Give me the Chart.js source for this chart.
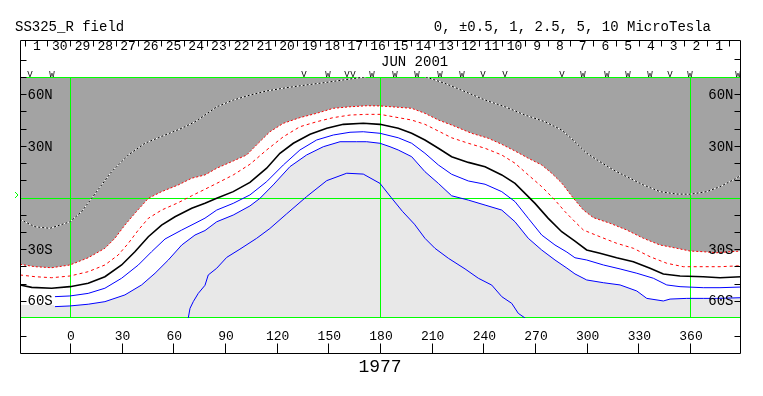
<!DOCTYPE html>
<html>
<head>
<meta charset="utf-8">
<title>SS325_R field</title>
<script src="https://cdn.jsdelivr.net/npm/chart.js@4.4.1/dist/chart.umd.min.js"></script>
<style>
  html, body { margin: 0; padding: 0; background: #fff; }
  canvas { display: block; }
</style>
</head>
<body>
<canvas id="chart" width="763" height="396"></canvas>
<script>
// source surface field contours, Carrington rotation 1977 (lon / lat in degrees)

// +2.5 contour (white/black dotted)
const pos25Lon = [-29, -20.3, -11.6, 0, 6.8, 12.6, 18.4, 24.2, 33.9, 43.5, 55.2, 64.9, 72.6, 78.4, 85.2, 94.8, 104.5, 114.2, 125.8, 137.4, 149.1, 158.7, 168.4, 180, 191.6, 206.1, 217.7, 229.4, 241, 252.6, 264.2, 275.8, 285.5, 293.2, 300, 307.7, 315.5, 323.2, 332.9, 342.6, 352.3, 360, 369.7, 377.4, 385.1, 390];
const pos25Lat = [-12.7, -17, -17.9, -14.1, -8.2, -0.5, 7.3, 15, 24.7, 31.5, 36.3, 40.2, 44, 47.9, 52.7, 56.6, 59.5, 61.9, 63.8, 65.4, 66.9, 68.3, 69.6, 71.5, 71.5, 70.2, 66.3, 61.5, 56.6, 52.7, 47.9, 44, 39.2, 32.4, 25.7, 20.8, 16, 12.1, 7.3, 3.4, 2, 1.9, 3.4, 6.3, 10.2, 13.1];

// +1 contour (edge of dark shading)
const pos1Lon = [-29, -20.3, -10.6, 0, 10.6, 20.3, 26.1, 31.9, 37.7, 45.5, 53.2, 62.9, 70.7, 78.4, 85.2, 94.8, 102.6, 109.3, 116.1, 123.9, 133.5, 143.2, 152.9, 162.6, 172.3, 180, 190.6, 198.4, 206.1, 213.9, 221.6, 233.2, 242.9, 250.7, 258.4, 266.1, 273.9, 279.7, 285.5, 292.2, 298.1, 303.9, 313.6, 323.3, 332.9, 342.6, 352.3, 360, 367.7, 375.5, 383.2, 390];
const pos1Lat = [-38.8, -40.2, -40.8, -39.2, -35, -29.5, -23.7, -16, -9.2, -0.5, 3.4, 7.3, 11.2, 13.1, 17, 21.2, 24.7, 31.5, 38.2, 43.1, 46.4, 48.9, 51.8, 52.7, 53.3, 53.2, 52.4, 51.8, 48.9, 45, 42.1, 37.3, 34.4, 30.9, 27, 22.8, 18.9, 14.1, 8.4, -0.3, -7.3, -11.7, -15, -18.9, -23.7, -27.6, -29.5, -31.1, -31.5, -32.1, -31.5, -31.1];

// +0.5 contour
const pos05Lon = [-29, -20.3, -10.6, 0, 10.6, 20.3, 28, 33.9, 39.7, 45.5, 53.2, 62.9, 70.7, 78.4, 85.2, 94.8, 104.5, 114.2, 123.9, 133.5, 143.2, 152.9, 162.6, 172.3, 180, 190.6, 198.4, 206.1, 213.9, 221.6, 231.3, 241, 250.7, 258.4, 266.1, 273.9, 281.6, 287.4, 293.2, 298.1, 307.7, 317.4, 327.1, 336.8, 346.5, 356.1, 367.7, 377.4, 390];
const pos05Lat = [-45, -46, -46.6, -45.6, -43.1, -39.2, -33.4, -26.6, -18.9, -12.1, -7.3, -3, 1, 4.8, 8.2, 13.1, 19.3, 27.6, 35.3, 41.1, 44, 46.4, 47.9, 48.3, 48.3, 46.4, 45, 42.5, 38.6, 34.7, 31.5, 28.6, 24.7, 19.9, 13.1, 6.3, -1.5, -8.2, -14.1, -18.9, -22.8, -26.6, -29.5, -34.4, -38.2, -40.2, -40.2, -40.2, -39.6];

// neutral line
const zeroLon = [-29, -22.2, -10.6, 0, 10.6, 20.3, 30, 37.7, 45.5, 53.2, 61, 70.7, 78.4, 85.2, 94.8, 104.5, 114.2, 121.9, 129.7, 139.4, 149.1, 158.7, 170.3, 180, 190.6, 198.4, 206.1, 213.9, 221.6, 231.3, 241, 250.7, 258.4, 264.2, 270, 277.7, 285.5, 293.2, 300, 307.7, 317.4, 327.1, 336.8, 344.5, 354.2, 367.7, 377.4, 390];
const zeroLat = [-50.8, -52.2, -52.7, -51.8, -49.8, -46, -39.2, -31.5, -22.8, -16, -11.2, -6.3, -3.4, -0.5, 3.4, 8.8, 17, 25.7, 31.5, 36.7, 40.2, 42.5, 43.1, 42.5, 40.2, 37.3, 33.4, 28.6, 23.7, 20.4, 17.9, 13.1, 8.2, 2.4, -3.4, -12.1, -19.9, -25.3, -30.5, -32.4, -35, -37.3, -41.1, -44.4, -45.6, -46, -46.6, -46];

// -0.5 contour
const neg05Lon = [-8.7, 0, 10.6, 20.3, 30, 39.7, 47.4, 55.2, 64.9, 72.6, 78.4, 85.2, 94.8, 104.5, 114.2, 123.9, 133.5, 143.2, 152.9, 162.6, 170.3, 180, 190.6, 198.4, 206.1, 213.9, 221.6, 231.3, 241, 250.7, 258.4, 266.1, 273.9, 281.6, 288.5, 293.2, 300, 309.7, 319.4, 329.1, 338.7, 346.5, 354.2, 367.7, 377.4, 390];
const neg05Lat = [-57.6, -57.2, -55.7, -52.7, -46.9, -39.2, -31.5, -24.1, -18.9, -15, -12, -7.3, -3.4, 1.5, 9.2, 18.9, 27.6, 33.4, 36.3, 37.9, 38.2, 37.3, 34.7, 31.5, 25.7, 18.9, 13.5, 9.6, 7.7, 3.4, -2.4, -12.1, -21.8, -27.6, -31.7, -35, -36.3, -39.2, -41.5, -44, -46.9, -50.8, -51.8, -52.4, -52.4, -52];

// -1 contour (edge of light shading)
const neg1Lon = [-8.7, 0, 10.6, 20.3, 31.9, 41.6, 49.4, 57.1, 64.9, 72.6, 78.4, 85.2, 94.8, 104.5, 110.3, 118, 127.7, 137.4, 147.1, 156.8, 166.5, 172.3, 180, 185.8, 190.6, 198.4, 206.1, 213.9, 221.6, 231.3, 241, 250.7, 258.4, 266.1, 273.9, 281.6, 288.5, 293.2, 300, 309.7, 319.4, 329.1, 334.9, 344.5, 348.4, 358.1, 367.7, 375.5, 390];
const neg1Lat = [-63.4, -63, -62, -60.5, -56.6, -50.8, -44, -36.3, -27.6, -21.8, -19.2, -14.1, -10.2, -4.9, -0.5, 7.3, 17.9, 24.7, 29.5, 32.4, 32.4, 32.4, 31.5, 29.5, 27.6, 23.7, 15, 8.2, 1, -1.5, -4.4, -7.3, -14.1, -23.7, -30.5, -36.3, -41, -44.4, -47.9, -49.5, -50.8, -54.3, -58.6, -60.1, -59, -58.6, -58.6, -58.6, -58.2];
// shading edge where the -1 line is not drawn
const neg1EdgeLon = [-29, -9.5];
const neg1EdgeLat = [-62.4, -62.4];

// -2.5 contour
const neg25Lon = [68.7, 69.7, 71.6, 74.5, 78.4, 80.3, 85.2, 91, 98.7, 108.4, 116.1, 125.8, 137.4, 149.1, 160.7, 170.3, 180, 186.5, 193, 200, 206.1, 211.9, 219.7, 229.4, 237.1, 244.9, 250.7, 256.5, 260.3, 264.2];
const neg25Lat = [-70, -64.4, -60.5, -55.7, -51, -45, -41.1, -34.8, -30, -23.7, -18, -9.5, 0.5, 9.8, 14.1, 13.6, 8.2, 0, -8, -15.5, -23.7, -29.5, -35.3, -41.5, -46.9, -50.9, -57.6, -61.5, -67.3, -70];

// axes
const lonTicks = [0, 30, 60, 90, 120, 150, 180, 210, 240, 270, 300, 330, 360];
const latTicks = [60, 50, 40, 30, 20, 10, -10, -20, -30, -40, -50, -60];
const latLabelVals = [60, 30, -30, -60];
const latLabelText = ["60N", "30N", "30S", "60S"];
const gridLon = [0, 180, 360];
const gridLat = [70, 0, -70];

// dates along the top (July 1 back to June 1)
const dayText = ["1", "30", "29", "28", "27", "26", "25", "24", "23", "22", "21", "20", "19", "18", "17", "16",
  "15", "14", "13", "12", "11", "10", "9", "8", "7", "6", "5", "4", "3", "2", "1"];
const dayLon = [-19.7, -6.5, 6.7, 19.9, 33.1, 46.3, 59.5, 72.7, 85.9, 99.1, 112.3, 125.5, 138.7, 151.9, 165.1, 178.3,
  191.5, 204.7, 217.9, 231.1, 244.3, 257.5, 270.7, 283.9, 297.1, 310.3, 323.5, 336.7, 349.9, 363.1, 376.3];

// V / W markers row
const markLon = [-23.2, -10.5, 135.9, 149.8, 160.8, 164.3, 175.4, 188.7, 201.5, 214.8, 227.6, 239.8, 252.6, 285.7, 297.9, 311.8, 324.0, 336.8, 348.4, 360.0, 387.9];
const markText = ["V", "W", "V", "W", "V", "V", "W", "W", "W", "W", "W", "V", "V", "V", "W", "W", "W", "W", "V", "W", "W"];

const FONT = "'Liberation Mono', 'DejaVu Sans Mono', monospace";

const pts = (lon, lat) => lon.map((x, i) => ({ x: x, y: lat[i] }));

const line = (label, data, color, width, dash, order) => ({
  label: label,
  data: data,
  showLine: true,
  borderColor: color,
  borderWidth: width,
  borderDash: dash || [],
  pointRadius: 0,
  fill: false,
  clip: 0,
  order: order,
});

// green frame / meridian lines, drawn right after the shading
const gridPlugin = {
  id: "greenGrid",
  afterDatasetDraw(chart, args) {
    if (chart.data.datasets[args.index].label !== "shadeNeg") return;
    const { ctx, chartArea: a, scales: { x, y } } = chart;
    ctx.save();
    ctx.strokeStyle = "#00ff00";
    ctx.lineWidth = 1;
    ctx.beginPath();
    gridLon.forEach((v) => {
      const px = Math.round(x.getPixelForValue(v)) + 0.5;
      ctx.moveTo(px, a.top);
      ctx.lineTo(px, a.bottom);
    });
    gridLat.forEach((v) => {
      let py = Math.round(y.getPixelForValue(v)) + 0.5;
      if (py > a.bottom) py -= 1;
      ctx.moveTo(a.left, py);
      ctx.lineTo(a.right, py);
    });
    ctx.stroke();
    ctx.restore();
  },
};

// frame, ticks and all the texts
const decorPlugin = {
  id: "decor",
  afterDraw(chart) {
    const { ctx, chartArea: a, scales: { x, y } } = chart;
    const L = a.left + 0.5;
    const R = a.right - 0.5;
    const top = 40.5;
    const bot = 353.5;
    ctx.save();
    ctx.strokeStyle = "#000";
    ctx.fillStyle = "#000";
    ctx.lineWidth = 1;

    // frame
    ctx.beginPath();
    ctx.moveTo(L, top); ctx.lineTo(R, top);
    ctx.moveTo(L, top); ctx.lineTo(L, bot);
    ctx.moveTo(R, top); ctx.lineTo(R, bot);
    ctx.moveTo(L, bot); ctx.lineTo(R, bot);
    // short frame ticks
    [60.5, 77.5, 336.5].forEach((py) => { ctx.moveTo(L, py); ctx.lineTo(L + 6, py); });
    [59.5, 336.5].forEach((py) => { ctx.moveTo(R, py); ctx.lineTo(R - 6, py); });
    // latitude ticks
    latTicks.forEach((v) => {
      const py = Math.round(y.getPixelForValue(v)) + 0.5;
      ctx.moveTo(L, py); ctx.lineTo(L + 6, py);
      ctx.moveTo(R, py); ctx.lineTo(R - 6, py);
    });
    // longitude ticks
    lonTicks.forEach((v) => {
      const px = Math.round(x.getPixelForValue(v)) + 0.5;
      ctx.moveTo(px, bot); ctx.lineTo(px, bot - 10);
    });
    // day separators
    dayLon.forEach((v, i) => {
      const px = Math.round(x.getPixelForValue(v - 6.6)) + 0.5;
      ctx.moveTo(px, top); ctx.lineTo(px, top + 6);
      if (i === dayLon.length - 1) {
        const pe = Math.round(x.getPixelForValue(v + 6.6)) + 0.5;
        ctx.moveTo(pe, top); ctx.lineTo(pe, top + 6);
      }
    });
    ctx.stroke();

    // header texts
    ctx.font = "14px " + FONT;
    ctx.textBaseline = "middle";
    ctx.textAlign = "left";
    ctx.fillText("SS325_R field", 15, 27);
    ctx.textAlign = "right";
    ctx.fillText("0, \u00b10.5, 1, 2.5, 5, 10 MicroTesla", 711, 27);

    // dates
    ctx.font = "13px " + FONT;
    ctx.textAlign = "center";
    dayText.forEach((t, i) => ctx.fillText(t, x.getPixelForValue(dayLon[i]) + 1, 47));
    ctx.textAlign = "left";
    ctx.font = "14px " + FONT;
    ctx.fillText("JUN 2001", x.getPixelForValue(180) + 1, 62);

    // V / W markers
    ctx.font = "9px " + FONT;
    ctx.textAlign = "center";
    ctx.textBaseline = "alphabetic";
    markText.forEach((t, i) => ctx.fillText(t, x.getPixelForValue(markLon[i]), 77));

    // latitude labels
    ctx.font = "14px " + FONT;
    ctx.textBaseline = "middle";
    latLabelVals.forEach((v, i) => {
      const py = y.getPixelForValue(v) + 1;
      ctx.textAlign = "left";
      ctx.fillText(latLabelText[i], L + 7, py);
      ctx.textAlign = "right";
      ctx.fillText(latLabelText[i], R - 7, py);
    });

    // longitude labels
    ctx.font = "13px " + FONT;
    ctx.textAlign = "center";
    lonTicks.forEach((v) => ctx.fillText(String(v), x.getPixelForValue(v) + 1, 337));

    ctx.font = "18px " + FONT;
    ctx.fillText("1977", x.getPixelForValue(180), 367);

    // small green marker at the equator
    ctx.strokeStyle = "#00ff00";
    const eq = Math.round(y.getPixelForValue(0)) - 3;
    ctx.beginPath();
    ctx.moveTo(15, eq - 3); ctx.lineTo(18, eq); ctx.lineTo(15, eq + 3);
    ctx.stroke();
    ctx.restore();
  },
};

new Chart(document.getElementById("chart"), {
  type: "scatter",
  data: {
    datasets: [
      { label: "shadePos", data: pts(pos1Lon, pos1Lat), showLine: true, fill: "end",
        backgroundColor: "#a3a3a3", borderWidth: 0, pointRadius: 0, clip: 0, order: 21 },
      { label: "shadeNeg", data: pts(neg1EdgeLon.concat(neg1Lon), neg1EdgeLat.concat(neg1Lat)), showLine: true, fill: "start",
        backgroundColor: "#e8e8e8", borderWidth: 0, pointRadius: 0, clip: 0, order: 20 },
      line("+2.5", pts(pos25Lon, pos25Lat), "#ffffff", 1, null, 9),
      line("+2.5 dots", pts(pos25Lon, pos25Lat), "#000000", 1, [2, 2], 8),
      line("+1", pts(pos1Lon, pos1Lat), "#ff0000", 1, [2, 2], 7),
      line("+0.5", pts(pos05Lon, pos05Lat), "#ff0000", 1, [3, 3], 6),
      line("0", pts(zeroLon, zeroLat), "#000000", 1.6, null, 5),
      line("-0.5", pts(neg05Lon, neg05Lat), "#0000ff", 1, null, 4),
      line("-1", pts(neg1Lon, neg1Lat), "#0000ff", 1, null, 3),
      line("-2.5", pts(neg25Lon, neg25Lat), "#0000ff", 1, null, 2),
    ],
  },
  options: {
    responsive: false,
    animation: false,
    devicePixelRatio: 1,
    layout: { padding: { left: 20, top: 77, right: 22, bottom: 78 } },
    elements: { line: { tension: 0 } },
    plugins: { legend: { display: false }, tooltip: { enabled: false } },
    scales: {
      x: { type: "linear", min: -29, max: 389.6, display: false },
      y: { type: "linear", min: -70, max: 70, display: false },
    },
  },
  plugins: [gridPlugin, decorPlugin],
});
</script>
</body>
</html>
